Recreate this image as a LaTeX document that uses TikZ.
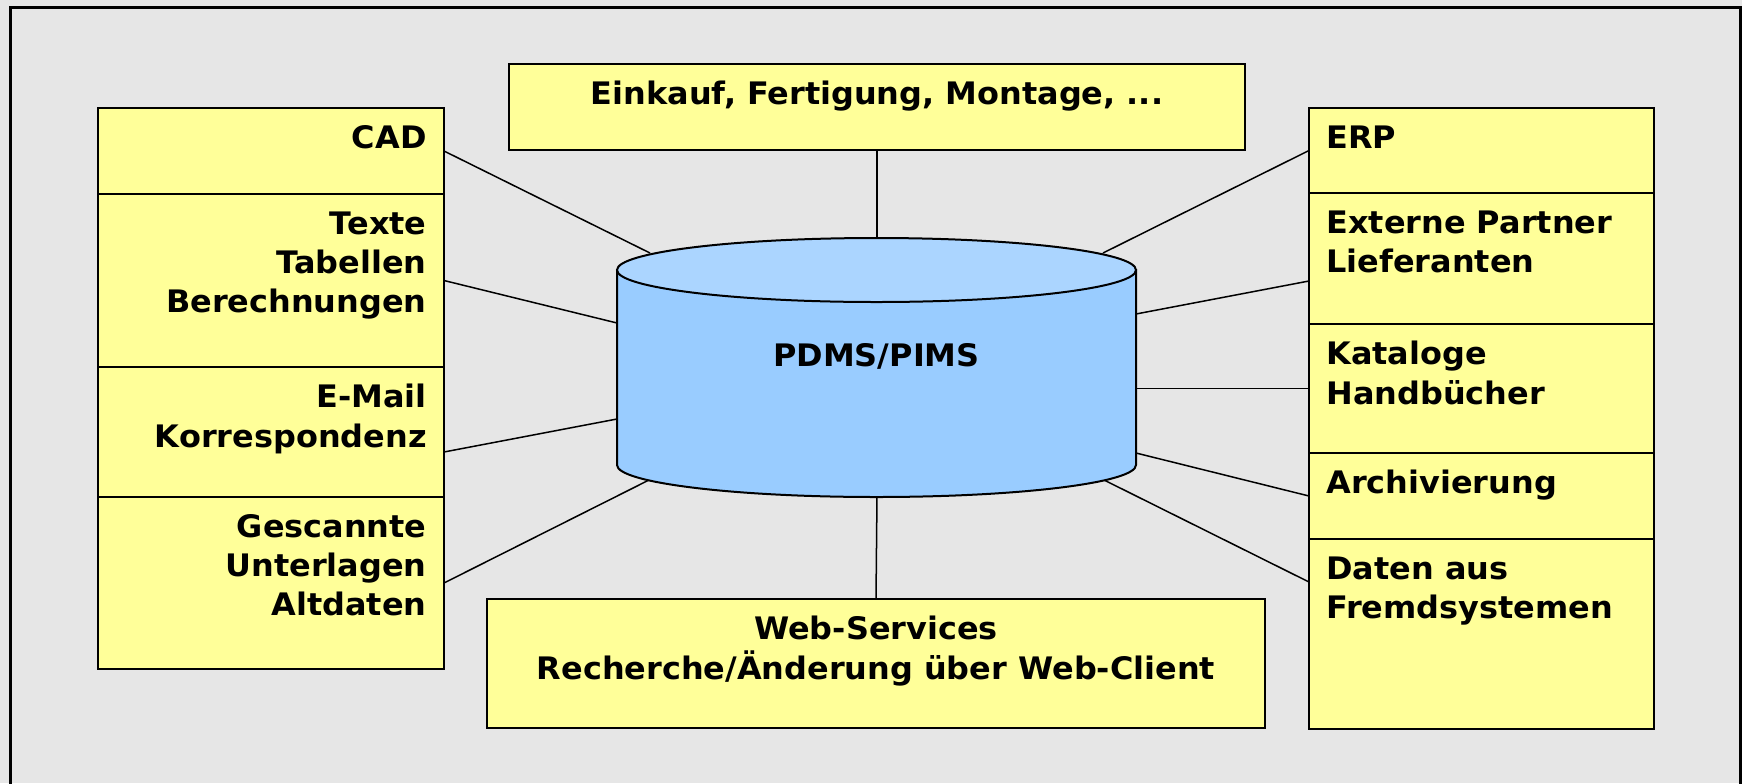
\documentclass[tikz,border=0pt]{standalone}
\usepackage{fontspec}
\setmainfont[FakeStretch=1.03]{DejaVu Sans}
\usetikzlibrary{positioning, calc}
\definecolor{boxyellow}{HTML}{FFFF99}
\definecolor{bggray}{HTML}{E6E6E6}
\definecolor{dbblue}{HTML}{99CCFF}
\definecolor{dbtop}{HTML}{ABD5FF}
\newcommand{\boxfont}{\bfseries\fontsize{15.5pt}{19.6pt}\selectfont}

\begin{document}
\begin{tikzpicture}[x=0.5pt, y=-0.5pt,
      box/.style={draw, fill=boxyellow, line width=1pt, inner sep=0pt,
                  outer sep=0pt, minimum width=173pt},
      ltxt/.style={anchor=north east, align=right, font=\boxfont,
                   inner sep=0pt, xshift=-8.5pt, yshift=-8.5pt},
      rtxt/.style={anchor=north west, align=left, font=\boxfont,
                   inner sep=0pt, xshift=8.5pt, yshift=-8.5pt},
      ctxt/.style={anchor=north, align=center, font=\boxfont,
                   inner sep=0pt, yshift=-8.5pt},
      con/.style={line width=0.75pt}]
    \fill[bggray] (0,0) rectangle (1742,783);
    \useasboundingbox (0,0) rectangle (1742,783);
    \draw[line width=1.5pt] (10,800) -- (10,7) -- (1740,7) -- (1740,800);

    % left column
    \node[box, minimum height=43pt, anchor=north west] (cad) at (98,108) {};
    \node[box, minimum height=86.5pt, below=0pt of cad] (texte) {};
    \node[box, minimum height=65pt, below=0pt of texte] (email) {};
    \node[box, minimum height=86pt, below=0pt of email] (scan) {};
    \node[ltxt] at (cad.north east) {CAD};
    \node[ltxt] at (texte.north east) {Texte\\Tabellen\\Berechnungen};
    \node[ltxt] at (email.north east) {E-Mail\\Korrespondenz};
    \node[ltxt] at (scan.north east) {Gescannte\\Unterlagen\\Altdaten};

    % right column
    \node[box, minimum width=172.5pt, minimum height=42.5pt, anchor=north west] (erp) at (1309,108) {};
    \node[box, minimum width=172.5pt, minimum height=65.5pt, below=0pt of erp] (partner) {};
    \node[box, minimum width=172.5pt, minimum height=64.5pt, below=0pt of partner] (katalog) {};
    \node[box, minimum width=172.5pt, minimum height=43pt, below=0pt of katalog] (archiv) {};
    \node[box, minimum width=172.5pt, minimum height=95pt, below=0pt of archiv] (fremd) {};
    \node[rtxt] at (erp.north west) {ERP};
    \node[rtxt] at (partner.north west) {Externe Partner\\Lieferanten};
    \node[rtxt] at (katalog.north west) {Kataloge\\Handbücher};
    \node[rtxt] at (archiv.north west) {Archivierung};
    \node[rtxt] at (fremd.north west) {Daten aus\\Fremdsystemen};

    % top and bottom
    \node[box, minimum width=368pt, minimum height=43pt, anchor=north west] (fert) at (509,64) {};
    \node[ctxt] at (fert.north) {Einkauf, Fertigung, Montage, ...};
    \node[box, minimum width=389pt, minimum height=64.5pt, anchor=north west] (web) at (487,599) {};
    \node[ctxt] at (web.north) {Web-Services\\Recherche/Änderung über Web-Client};

    % contact points on the cylinder
    \coordinate (db-cad) at (650,253);
    \coordinate (db-texte) at (617,323);
    \coordinate (db-email) at (617,419);
    \coordinate (db-scan) at (649,480);
    \coordinate (db-erp) at (1103,253);
    \coordinate (db-partner) at (1136,314);
    \coordinate (db-katalog) at (1136,388.5);
    \coordinate (db-archiv) at (1136,453);
    \coordinate (db-fremd) at (1104,480);
    \coordinate (db-top) at (877,238);
    \coordinate (db-bot) at (877,496);

    \draw[con] (cad.east) -- (db-cad);
    \draw[con] (texte.east) -- (db-texte);
    \draw[con] ([yshift=-10pt]email.east) -- (db-email);
    \draw[con] (scan.east) -- (db-scan);
    \draw[con] (erp.west) -- (db-erp);
    \draw[con] ([yshift=-11.25pt]partner.west) -- (db-partner);
    \draw[con] (katalog.west) -- (db-katalog);
    \draw[con] (archiv.west) -- (db-archiv);
    \draw[con] ([yshift=26pt]fremd.west) -- (db-fremd);
    \draw[con] (fert.south) -- (db-top);
    \draw[con] (web.north) -- (db-bot);

    % database cylinder
    \draw[fill=dbblue, line width=1pt] (617,270) -- (617,465)
      arc[start angle=180, end angle=360, x radius=129.75pt, y radius=16pt]
      -- (1136,270) -- cycle;
    \draw[fill=dbtop, line width=1pt] (876.5,270) ellipse [x radius=129.75pt, y radius=16pt];
    \node[font=\boxfont, inner sep=0pt] (db) at (876.5,356) {PDMS/PIMS};
  \end{tikzpicture}
\end{document}
